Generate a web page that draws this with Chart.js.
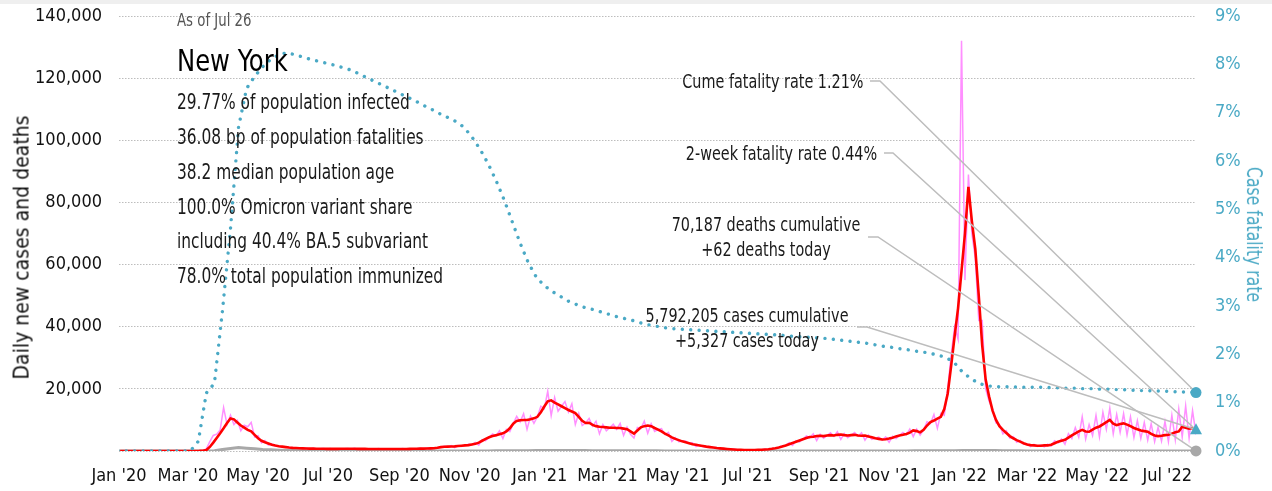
<!DOCTYPE html>
<html><head><meta charset="utf-8">
<script src="https://cdn.jsdelivr.net/npm/chart.js@4.4.1/dist/chart.umd.min.js"></script>
<style>
html,body{margin:0;padding:0;background:#fff;}
#wrap{position:relative;width:1272px;height:491px;overflow:hidden;font-family:"DejaVu Sans Condensed","Liberation Sans",sans-serif;color:#111;}
#band{position:absolute;left:0;top:0;width:1272px;height:4px;background:#efefef;}
canvas{position:absolute;left:0;top:0;}
.t{position:absolute;white-space:nowrap;line-height:1;}
.s{font-size:21px;left:177px;color:#1a1a1a;transform:scaleX(0.815);transform-origin:0 50%;}
.a{font-size:20px;color:#1a1a1a;transform:scaleX(0.8);}
.r{transform-origin:100% 50%;}
.c{text-align:center;width:300px;transform-origin:50% 50%;}
.vt{position:absolute;white-space:nowrap;line-height:1;font-size:21px;}
</style></head><body>
<div id="wrap">
<canvas id="c" width="1272" height="491"></canvas>
<div id="band"></div>
<div class="t" style="left:177px;top:12px;font-size:17px;color:#555;transform:scaleX(0.87);transform-origin:0 50%;">As of Jul 26</div>
<div class="t" style="left:177px;top:45px;font-size:31px;color:#000;transform:scaleX(0.87);transform-origin:0 50%;">New York</div>
<div class="t s" style="top:92px;">29.77% of population infected</div>
<div class="t s" style="top:127px;">36.08 bp of population fatalities</div>
<div class="t s" style="top:162px;">38.2 median population age</div>
<div class="t s" style="top:197px;">100.0% Omicron variant share</div>
<div class="t s" style="top:231px;">including 40.4% BA.5 subvariant</div>
<div class="t s" style="top:266px;">78.0% total population immunized</div>
<div class="t a r" style="right:408px;top:71px;">Cume fatality rate 1.21%</div>
<div class="t a r" style="right:395px;top:143px;">2-week fatality rate 0.44%</div>
<div class="t a c" style="left:616px;top:214px;">70,187 deaths cumulative</div>
<div class="t a c" style="left:616px;top:239px;">+62 deaths today</div>
<div class="t a c" style="left:597px;top:305px;">5,792,205 cases cumulative</div>
<div class="t a c" style="left:597px;top:330px;">+5,327 cases today</div>
<div class="vt" id="ytitle" style="color:#111;">Daily new cases and deaths</div>
<div class="vt" id="y1title" style="color:#4aa9c5;">Case fatality rate</div>
</div>
<script>
// ---- data ----
// x values are days since 2020-01-01
const xTickDays = [0,60,121,182,244,305,366,425,486,547,609,670,731,790,851,912];
const xTickLabels = ["Jan '20","Mar '20","May '20","Jul '20","Sep '20","Nov '20","Jan '21","Mar '21","May '21","Jul '21","Sep '21","Nov '21","Jan '22","Mar '22","May '22","Jul '22"];
const lastDay = 937; // Jul 26 2022

// daily cases sampled every 3 days starting day 1
const caseFirstDay = 1, caseStep = 3;
const casesRaw = [
0,0,0,0,0,0,0,0,0,0,
0,0,0,0,0,0,0,0,0,0,
0,0,0,50,200,700,3000,5000,5400,6800,
14000,8500,11500,8500,9800,6500,8300,7800,9200,4500,
4900,2600,3400,1900,2300,1600,1700,1200,1400,1000,
1100,950,1010,800,960,550,840,630,720,800,
660,820,480,760,600,720,830,670,840,480,
750,570,660,750,610,760,440,680,530,620,
720,610,780,460,750,600,720,860,740,980,
600,990,890,1250,1550,1330,1740,1050,1760,1450,
1800,2190,2000,2760,1890,3630,3320,4400,5520,4850,
6480,3990,6930,6200,8800,11150,9400,12000,7000,11200,
8900,11000,14400,13600,19200,11400,17200,12800,14400,15900,
12500,15200,8500,12100,8200,9000,10500,8000,9600,5500,
8500,6500,7500,8600,7000,8900,5000,7700,5400,4200,
7600,7200,9600,5700,8800,6300,6900,7200,5300,6000,
3100,4300,3000,3100,3200,2400,2600,1400,2000,1400,
1400,1440,1050,1140,600,830,550,560,550,400,
440,240,350,260,320,400,380,560,390,770,
770,1150,1670,1710,2640,1820,3300,2890,3800,4830,
4280,5520,3360,5390,4080,5000,5870,4750,6240,3710,
5610,4250,5100,5980,4750,5880,3500,5170,3740,4100,
4490,3520,4560,2800,4730,4000,5000,5980,5230,7080,
4620,7040,5100,6800,9430,8840,11760,7280,12100,11500,
20000,31000,40000,36000,132000,55000,89000,70000,62000,42000,
42000,20000,16000,13500,9000,8500,5500,6500,4200,4600,
2800,3400,2200,2300,1400,2100,1500,1900,1300,2200,
1600,3300,2600,3900,2200,5600,4000,7500,4400,11000,
3800,8500,5000,11500,4500,12500,7000,13800,5500,11800,
6000,12000,5200,11000,4300,9800,4000,9200,3500,8800,
3000,7600,3200,9500,3000,11500,3600,13500,4500,14500,
4200,13000,5300
];
const casesAvg = [
0,0,0,0,0,0,0,0,0,0,
0,0,0,0,0,0,0,0,0,0,
0,0,0,30,100,300,1300,2700,4200,5700,
7300,9000,10500,10200,9200,8200,7500,6800,6300,5200,
4100,3300,2800,2400,2000,1750,1550,1400,1250,1100,
1000,950,880,840,800,780,760,740,720,700,
690,680,680,690,700,720,720,710,700,690,
680,670,660,650,640,630,630,620,620,620,
630,640,650,660,680,700,720,750,780,820,
860,900,1050,1250,1350,1400,1450,1500,1600,1700,
1800,1900,2100,2300,2700,3300,3900,4400,4800,5100,
5400,5700,6300,7300,8800,9700,9900,10000,10000,10200,
10500,11000,12500,14300,16000,16300,15600,15000,14400,13800,
13200,12700,12200,11000,9700,9000,9100,8400,8000,7800,
7700,7600,7500,7500,7400,7400,7200,7000,6300,5600,
6600,7600,8000,8200,8000,7400,6900,6300,5600,5000,
4400,3900,3500,3100,2800,2500,2200,2000,1800,1600,
1400,1250,1100,950,850,750,650,560,480,420,
370,340,320,310,320,350,400,470,560,700,
900,1150,1450,1800,2200,2600,3000,3400,3800,4200,
4500,4600,4800,4900,4800,5000,5100,5000,5200,5300,
5100,5000,5100,5200,5000,4900,5000,4700,4400,4100,
3900,3700,3800,4000,4300,4700,5000,5200,5500,5900,
6600,6400,6000,6800,8200,9300,9800,10400,11000,13500,
18500,27500,37000,46000,58000,70000,85000,74000,65000,50000,
34000,23000,17500,13000,10000,8000,6800,5800,4800,4100,
3500,3000,2500,2100,1900,1800,1700,1700,1800,1800,
2000,2500,3000,3300,3600,4300,5000,5700,6300,6800,
6300,6200,6900,7500,7900,8600,9300,10000,8800,8300,
8700,8900,8500,8000,7400,7000,6600,6400,6200,5500,
5000,4800,4900,5100,5200,5600,6000,6300,7800,7500,
7200,7400,6900
];
// weekly series starting day -1
const weekFirstDay = -1, weekStep = 7;
const deathsAvg = [
0,0,0,0,0,0,0,0,0,0,
0,10,100,450,800,1100,900,700,500,380,
280,200,140,100,70,50,40,30,25,20,
15,10,10,10,10,10,10,10,10,10,
12,14,16,18,22,28,35,45,60,75,
95,115,130,150,165,170,165,155,140,120,
100,90,80,75,70,60,55,45,35,28,
20,15,12,10,8,6,5,5,5,6,
8,10,15,20,25,30,32,33,33,32,
30,28,27,26,26,27,30,33,38,45,
50,60,70,90,120,160,190,200,180,140,
100,70,45,30,20,15,12,12,12,14,
16,20,22,24,24,22,20,20,22,24,
25,28,30,32,30
];
const cfrPct = [
0,0,0,0,0,0,0,0,0,0,
0.2,1.2,1.4,2.9,4.6,6.7,7.5,7.75,7.95,8.1,
8.2,8.24,8.2,8.15,8.1,8.06,8.02,7.98,7.93,7.88,
7.8,7.72,7.64,7.56,7.48,7.4,7.32,7.24,7.15,7.07,
6.98,6.9,6.82,6.7,6.5,6.25,5.95,5.6,5.2,4.75,
4.3,3.9,3.6,3.42,3.3,3.2,3.1,3.03,2.97,2.93,
2.88,2.83,2.78,2.74,2.7,2.65,2.61,2.58,2.55,2.53,
2.52,2.51,2.5,2.49,2.48,2.47,2.46,2.45,2.44,2.43,
2.42,2.41,2.4,2.39,2.37,2.36,2.35,2.34,2.33,2.31,
2.29,2.27,2.25,2.23,2.2,2.17,2.15,2.12,2.1,2.07,
2.05,2.02,1.98,1.93,1.82,1.63,1.5,1.4,1.35,1.33,
1.33,1.33,1.32,1.32,1.32,1.32,1.31,1.31,1.3,1.3,
1.29,1.29,1.28,1.28,1.27,1.27,1.26,1.25,1.25,1.24,
1.24,1.23,1.22,1.22,1.21
];
const cumeCfr = 1.21;
const twoWeekCfr = 0.44;

// ---- build ----
const teal = '#4aa9c5';
const toPts = (arr, first, step) => arr.map((v, i) => ({x: first + step * i, y: v}));

Chart.defaults.font.family = '"DejaVu Sans Condensed","Liberation Sans",sans-serif';

// label anchor points for leader lines (pixels)
const leaders = [
  {start: [870, 81], bend: [880, 81], target: 'cume'},
  {start: [884, 153], bend: [893, 153], target: 'twoweek'},
  {start: [868, 237], bend: [878, 237], target: 'deaths'},
  {start: [857, 327], bend: [867, 327], target: 'cases'}
];

const overlay = {
  id: 'overlay',
  afterDatasetsDraw(chart) {
    const {ctx, scales: {x, y, y1}} = chart;
    const ex = x.getPixelForValue(lastDay);
    const tg = {
      cume: [ex, y1.getPixelForValue(cumeCfr)],
      twoweek: [ex, y1.getPixelForValue(twoWeekCfr)],
      deaths: [ex, y.getPixelForValue(deathsAvg[deathsAvg.length - 1])],
      cases: [ex, y.getPixelForValue(casesAvg[casesAvg.length - 1])]
    };
    ctx.save();
    ctx.strokeStyle = '#bdbdbd';
    ctx.lineWidth = 1.5;
    leaders.forEach(l => {
      const t = tg[l.target];
      ctx.beginPath();
      ctx.moveTo(l.start[0], l.start[1]);
      ctx.lineTo(l.bend[0], l.bend[1]);
      ctx.lineTo(t[0], t[1]);
      ctx.stroke();
    });
    ctx.fillStyle = '#a8a8a8';
    ctx.beginPath(); ctx.arc(tg.deaths[0], tg.deaths[1], 5.5, 0, Math.PI * 2); ctx.fill();
    ctx.fillStyle = teal;
    ctx.beginPath(); ctx.arc(tg.cume[0], tg.cume[1], 5.5, 0, Math.PI * 2); ctx.fill();
    const [tx, ty] = tg.twoweek;
    ctx.beginPath();
    ctx.moveTo(tx, ty - 6.5); ctx.lineTo(tx + 6, ty + 4.5); ctx.lineTo(tx - 6, ty + 4.5); ctx.closePath();
    ctx.fill();
    ctx.restore();
  },
  afterRender(chart) {
    const a = chart.chartArea;
    const mid = (a.top + a.bottom) / 2;
    const yt = document.getElementById('ytitle');
    yt.style.left = (22 - yt.offsetWidth / 2) + 'px';
    yt.style.top = (mid + 14 - yt.offsetHeight / 2) + 'px';
    yt.style.transform = 'rotate(-90deg)';
    const rt = document.getElementById('y1title');
    rt.style.left = (1253 - rt.offsetWidth / 2) + 'px';
    rt.style.top = (mid + 1 - rt.offsetHeight / 2) + 'px';
    rt.style.transform = 'rotate(90deg) scaleX(0.83)';
  }
};

new Chart(document.getElementById('c'), {
  type: 'line',
  data: {
    datasets: [
      {data: toPts(cfrPct, weekFirstDay, weekStep), yAxisID: 'y1', borderColor: teal, borderWidth: 3.4,
       borderDash: [0.01, 8.4], borderCapStyle: 'round', pointRadius: 0, fill: false},
      {data: toPts(casesAvg, caseFirstDay, caseStep), yAxisID: 'y', borderColor: '#ff0000', borderWidth: 2.6,
       pointRadius: 0, fill: false},
      {data: toPts(deathsAvg, weekFirstDay, weekStep), yAxisID: 'y', borderColor: '#a8a8a8', borderWidth: 3,
       pointRadius: 0, fill: false},
      {data: toPts(casesRaw, caseFirstDay, caseStep), yAxisID: 'y', borderColor: '#ff8fff', borderWidth: 1.5,
       pointRadius: 0, fill: false}
    ]
  },
  options: {
    responsive: false,
    animation: false,
    events: [],
    layout: {padding: {top: 16, left: 0, right: 0, bottom: 0}},
    plugins: {legend: {display: false}, tooltip: {enabled: false}},
    elements: {line: {tension: 0}, point: {radius: 0}},
    scales: {
      x: {
        type: 'linear', min: 0, max: lastDay,
        grid: {display: false, drawTicks: false},
        border: {display: false},
        afterBuildTicks: s => { s.ticks = xTickDays.map(v => ({value: v})); },
        afterFit: s => { s.height = 40; s.paddingLeft = 0; s.paddingRight = 0; },
        ticks: {autoSkip: false, maxRotation: 0, padding: 15, color: '#111', font: {size: 18},
          callback: (v, i) => xTickLabels[i]}
      },
      y: {
        position: 'left', min: 0, max: 140000,
        afterFit: s => { s.width = 119; s.paddingTop = 0; s.paddingBottom = 0; },
        ticks: {stepSize: 20000, padding: 17, color: '#111', font: {size: 18},
          callback: v => v === 0 ? '' : v.toLocaleString('en-US')},
        grid: {color: '#bdbdbd', lineWidth: 1, drawTicks: false},
        border: {display: false, dash: [1.5, 1.5]}
      },
      y1: {
        position: 'right', min: 0, max: 9,
        afterFit: s => { s.width = 76; s.paddingTop = 0; s.paddingBottom = 0; },
        ticks: {stepSize: 1, padding: 19, color: teal, font: {size: 18}, callback: v => v + '%'},
        grid: {display: false, drawTicks: false},
        border: {display: false}
      }
    }
  },
  plugins: [overlay]
});
</script>
</body></html>
